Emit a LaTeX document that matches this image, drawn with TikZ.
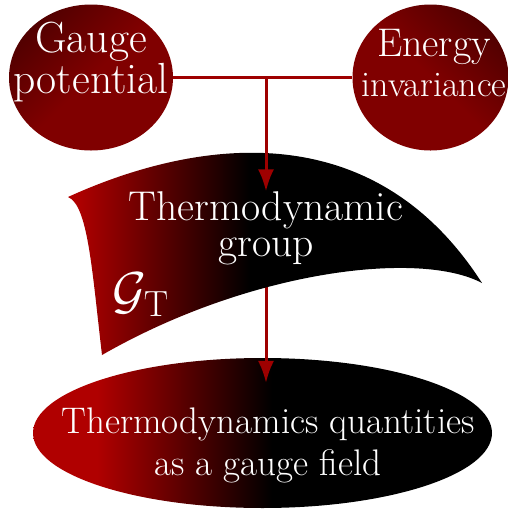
\RequirePackage{fix-cm}
\documentclass[tikz,border=0pt]{standalone}
\usetikzlibrary{arrows.meta,shapes.geometric,backgrounds}
\definecolor{DeepRed}{HTML}{800000}
\definecolor{DarkRed}{HTML}{520000}
\definecolor{BrightRed}{HTML}{B00000}
\definecolor{LineRed}{HTML}{9E0000}
\pgfdeclarehorizontalshading{sheetfade}{100bp}{color(0bp)=(BrightRed); color(26bp)=(BrightRed); color(47bp)=(black); color(100bp)=(black)}
\pgfdeclarehorizontalshading{fieldfade}{100bp}{color(0bp)=(BrightRed); color(32bp)=(BrightRed); color(51bp)=(black); color(100bp)=(black)}

\begin{document}
\begin{tikzpicture}[
  x=0.5pt,y=-0.5pt,
  bubble/.style={ellipse,inner sep=0pt,top color=DarkRed,bottom color=DeepRed,middle color=DeepRed},
  word/.style={text=white,align=center,inner sep=0pt},
  link/.style={draw=LineRed,line width=1.5pt},
  arrow/.style={link,-{Latex[length=11pt,width=8pt]}}
]
\useasboundingbox (0,0) rectangle (509,510);
% top bubbles
\node[bubble,shading angle=45,minimum width=82pt,minimum height=73pt] (gaugeE) at (91,77.5) {};
\node[bubble,shading angle=-45,minimum width=78pt,minimum height=73pt] (energyE) at (430.5,77.5) {};
\node[word,font=\fontsize{21.8}{19.5}\selectfont] (gauge) at (91,62) {Gauge\\potential};
\node[word,font=\fontsize{20}{20}\selectfont] (energy) at (434,63.5) {Energy\\{\fontsize{18}{20}\selectfont invariance}};
% middle group
\node[word,font=\fontsize{20.8}{18}\selectfont] (group) at (266,228.5) {Thermodynamic\\group};
\node[word,font=\fontsize{26}{26}\selectfont] (gt) at (141,295) {$\mathcal{G}_{\mathrm{T}}$};
% bottom field
\node[word,inner ysep=12pt,font=\fontsize{18.5}{21}\selectfont] (field) at (268,445) {Thermodynamics quantities\\as a gauge field};
\begin{scope}[on background layer]
  \node[ellipse,inner sep=0pt,shading=fieldfade,minimum width=229.5pt,minimum height=75pt] (fieldE) at (262.5,433) {};
  \draw[arrow] (group.south) -- (group.south |- field.north);
  \shade[shading=sheetfade]
    (68,197) .. controls (160,155) and (360,93) .. (482,283)
    .. controls (420,250) and (250,270) .. (102,355)
    .. controls (92,270) and (88,205) .. (68,197) -- cycle;
\end{scope}
% connectors
\coordinate (fork) at (266,77.5);
\draw[link] (gaugeE.east) -- (energyE.west);
\draw[arrow] (fork) -- (fork |- group.north);
\end{tikzpicture}
\end{document}
